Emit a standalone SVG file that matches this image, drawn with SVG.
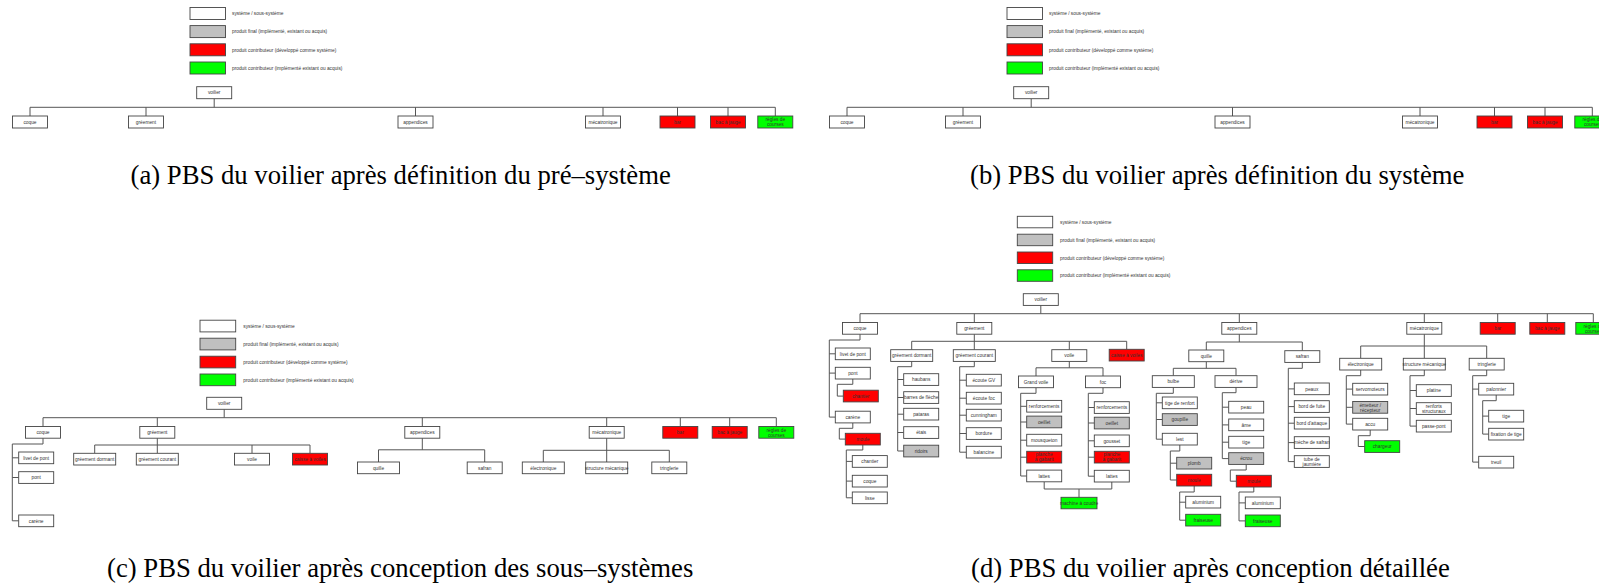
<svg xmlns="http://www.w3.org/2000/svg" width="1599" height="587" viewBox="0 0 1599 587">
<style>
.b{fill:#fff;stroke:#444;stroke-width:.9}
.g{fill:#c0c0c0;stroke:#444;stroke-width:.9}
.r{fill:#f00;stroke:#444;stroke-width:.9}
.v{fill:#0f0;stroke:#444;stroke-width:.9}
.t{font-family:"Liberation Sans",Arial,sans-serif;font-size:4.8px;fill:#333;text-anchor:middle}
.l{font-family:"Liberation Sans",Arial,sans-serif;font-size:4.8px;fill:#333}
.c{fill:none;stroke:#555;stroke-width:1}
.cap{font-family:"Liberation Serif","Times New Roman",serif;font-size:26.7px;fill:#000}
</style>
<rect width="1599" height="587" fill="#fff"/>

<!-- ============ PANEL A ============ -->
<g id="panel-a">
<g id="a-legend">
<rect class="b" x="190" y="7.5" width="35.5" height="12"/><text class="l" x="232" y="15.2">système / sous-système</text>
<rect class="g" x="190" y="25.6" width="35.5" height="12"/><text class="l" x="232" y="33.3">produit final (implémenté, existant ou acquis)</text>
<rect class="r" x="190" y="43.8" width="35.5" height="12"/><text class="l" x="232" y="51.5">produit contributeur (développé comme système)</text>
<rect class="v" x="190" y="62" width="35.5" height="12"/><text class="l" x="232" y="69.7">produit contributeur (implémenté existant ou acquis)</text>
</g>
<g id="a-connectors">
<path class="c" d="M214.2 98.7 V107.3 M30 107.3 H775.3 M30 107.3 V116 M146 107.3 V116 M415.5 107.3 V116 M603 107.3 V116 M677.5 107.3 V116 M728 107.3 V116 M775.3 107.3 V116"/>
</g>
<g id="a-voilier"><rect class="b" x="196.7" y="86.7" width="35" height="12"/><text class="t" x="214.2" y="94.4">voilier</text></g>
<g id="a-coque"><rect class="b" x="12.5" y="116" width="35" height="12"/><text class="t" x="30" y="123.7">coque</text></g>
<g id="a-greement"><rect class="b" x="128.5" y="116" width="35" height="12"/><text class="t" x="146" y="123.7">gréement</text></g>
<g id="a-appendices"><rect class="b" x="398" y="116" width="35" height="12"/><text class="t" x="415.5" y="123.7">appendices</text></g>
<g id="a-mecatronique"><rect class="b" x="585.5" y="116" width="35" height="12"/><text class="t" x="603" y="123.7">mécatronique</text></g>
<g id="a-bar"><rect class="r" x="660" y="116" width="35" height="12"/><text class="t" x="677.5" y="123.7">bar</text></g>
<g id="a-bac"><rect class="r" x="710.5" y="116" width="35" height="12"/><text class="t" x="728" y="123.7">bac à jauge</text></g>
<g id="a-regles"><rect class="v" x="757.8" y="116" width="35" height="12"/><text class="t" x="775.3" y="121.2">règles de</text><text class="t" x="775.3" y="126.2">courses</text></g>
</g>
<text class="cap" x="130.5" y="183.5">(a)  PBS du voilier après définition du pré–système</text>

<!-- ============ PANEL B ============ -->
<g id="panel-b" transform="translate(817 0)">
<g id="b-legend">
<rect class="b" x="190" y="7.5" width="35.5" height="12"/><text class="l" x="232" y="15.2">système / sous-système</text>
<rect class="g" x="190" y="25.6" width="35.5" height="12"/><text class="l" x="232" y="33.3">produit final (implémenté, existant ou acquis)</text>
<rect class="r" x="190" y="43.8" width="35.5" height="12"/><text class="l" x="232" y="51.5">produit contributeur (développé comme système)</text>
<rect class="v" x="190" y="62" width="35.5" height="12"/><text class="l" x="232" y="69.7">produit contributeur (implémenté existant ou acquis)</text>
</g>
<g id="b-connectors">
<path class="c" d="M214.2 98.7 V107.3 M30 107.3 H775.3 M30 107.3 V116 M146 107.3 V116 M415.5 107.3 V116 M603 107.3 V116 M677.5 107.3 V116 M728 107.3 V116 M775.3 107.3 V116"/>
</g>
<g id="b-voilier"><rect class="b" x="196.7" y="86.7" width="35" height="12"/><text class="t" x="214.2" y="94.4">voilier</text></g>
<g id="b-coque"><rect class="b" x="12.5" y="116" width="35" height="12"/><text class="t" x="30" y="123.7">coque</text></g>
<g id="b-greement"><rect class="b" x="128.5" y="116" width="35" height="12"/><text class="t" x="146" y="123.7">gréement</text></g>
<g id="b-appendices"><rect class="b" x="398" y="116" width="35" height="12"/><text class="t" x="415.5" y="123.7">appendices</text></g>
<g id="b-mecatronique"><rect class="b" x="585.5" y="116" width="35" height="12"/><text class="t" x="603" y="123.7">mécatronique</text></g>
<g id="b-bar"><rect class="r" x="660" y="116" width="35" height="12"/><text class="t" x="677.5" y="123.7">bar</text></g>
<g id="b-bac"><rect class="r" x="710.5" y="116" width="35" height="12"/><text class="t" x="728" y="123.7">bac à jauge</text></g>
<g id="b-regles"><rect class="v" x="757.8" y="116" width="35" height="12"/><text class="t" x="775.3" y="121.2">règles de</text><text class="t" x="775.3" y="126.2">courses</text></g>
</g>
<text class="cap" x="970" y="183.5">(b)  PBS du voilier après définition du système</text>

<!-- ============ PANEL C ============ -->
<g id="panel-c">
<g id="c-legend">
<rect class="b" x="200" y="320.2" width="35.7" height="11.7"/><text class="l" x="243.3" y="327.7">système / sous-système</text>
<rect class="g" x="200" y="338.2" width="35.7" height="11.7"/><text class="l" x="243.3" y="345.8">produit final (implémenté, existant ou acquis)</text>
<rect class="r" x="200" y="356.2" width="35.7" height="11.7"/><text class="l" x="243.3" y="363.7">produit contributeur (développé comme système)</text>
<rect class="v" x="200" y="374" width="35.7" height="11.7"/><text class="l" x="243.3" y="381.6">produit contributeur (implémenté existant ou acquis)</text>
</g>
<g id="c-connectors">
<path class="c" d="M224.2 409.3 V417.7 M43 417.7 H776.3 M43 417.7 V426.5 M157.3 417.7 V426.5 M422.3 417.7 V426.5 M606.7 417.7 V426.5 M680.3 417.7 V426.5 M729.7 417.7 V426.5 M776.3 417.7 V426.5"/>
<path class="c" d="M43 438.2 V444 H12.3 V520.8 M12.3 457.8 H18.7 M12.3 477.5 H18.7 M12.3 520.8 H18.7"/>
<path class="c" d="M157.3 438.2 V453.3 M94.7 453.3 V445 H310 V453.3 M252 445 V453.3"/>
<path class="c" d="M422.3 438.2 V449.8 M378.5 462 V449.8 H484.7 V462"/>
<path class="c" d="M606.7 438.2 V462 M543.3 462 V450.3 H669.3 V462"/>
</g>
<g id="c-voilier"><rect class="b" x="206.7" y="397.3" width="35" height="12"/><text class="t" x="224.2" y="405">voilier</text></g>
<g id="c-coque"><rect class="b" x="25.5" y="426.5" width="35" height="11.7"/><text class="t" x="43" y="434.05">coque</text></g>
<g id="c-greement"><rect class="b" x="139.8" y="426.5" width="35" height="11.7"/><text class="t" x="157.3" y="434.05">gréement</text></g>
<g id="c-appendices"><rect class="b" x="404.8" y="426.5" width="35" height="11.7"/><text class="t" x="422.3" y="434.05">appendices</text></g>
<g id="c-mecatronique"><rect class="b" x="589.2" y="426.5" width="35" height="11.7"/><text class="t" x="606.7" y="434.05">mécatronique</text></g>
<g id="c-bar"><rect class="r" x="662.8" y="426.5" width="35" height="11.7"/><text class="t" x="680.3" y="434.05">bar</text></g>
<g id="c-bac"><rect class="r" x="712.2" y="426.5" width="35" height="11.7"/><text class="t" x="729.7" y="434.05">bac à jauge</text></g>
<g id="c-regles"><rect class="v" x="758.8" y="426.5" width="35" height="11.7"/><text class="t" x="776.3" y="431.6">règles de</text><text class="t" x="776.3" y="436.5">courses</text></g>
<g id="c-livet"><rect class="b" x="18.7" y="452" width="35" height="11.7"/><text class="t" x="36.2" y="459.55">livet de pont</text></g>
<g id="c-pont"><rect class="b" x="18.7" y="471.7" width="35" height="11.7"/><text class="t" x="36.2" y="479.25">pont</text></g>
<g id="c-carene"><rect class="b" x="18.7" y="515" width="35" height="11.7"/><text class="t" x="36.2" y="522.55">carène</text></g>
<g id="c-gdormant"><rect class="b" x="73.7" y="453.3" width="42" height="11.7"/><text class="t" x="94.7" y="460.85">gréement dormant</text></g>
<g id="c-gcourant"><rect class="b" x="136.3" y="453.3" width="42" height="11.7"/><text class="t" x="157.3" y="460.85">gréement courant</text></g>
<g id="c-voile"><rect class="b" x="234.5" y="453.3" width="35" height="11.7"/><text class="t" x="252" y="460.85">voile</text></g>
<g id="c-caisse"><rect class="r" x="292.5" y="453.3" width="35" height="11.7"/><text class="t" x="310" y="460.85">caisse à voiles</text></g>
<g id="c-quille"><rect class="b" x="357.5" y="462" width="42" height="11.7"/><text class="t" x="378.5" y="469.55">quille</text></g>
<g id="c-safran"><rect class="b" x="467.2" y="462" width="35" height="11.7"/><text class="t" x="484.7" y="469.55">safran</text></g>
<g id="c-electronique"><rect class="b" x="522.3" y="462" width="42" height="11.7"/><text class="t" x="543.3" y="469.55">électronique</text></g>
<g id="c-structure"><rect class="b" x="585.7" y="462" width="42" height="11.7"/><text class="t" x="606.7" y="469.55">structure mécanique</text></g>
<g id="c-tringlerie"><rect class="b" x="651.8" y="462" width="35" height="11.7"/><text class="t" x="669.3" y="469.55">tringlerie</text></g>
</g>
<text class="cap" x="107" y="577">(c)  PBS du voilier après conception des sous–systèmes</text>

<!-- ============ PANEL D ============ -->
<g id="panel-d">
<g id="d-legend">
<rect class="b" x="1017.3" y="216.3" width="35.4" height="11.5"/><text class="l" x="1060" y="223.8">système / sous-système</text>
<rect class="g" x="1017.3" y="234.2" width="35.4" height="11.5"/><text class="l" x="1060" y="241.7">produit final (implémenté, existant ou acquis)</text>
<rect class="r" x="1017.3" y="252" width="35.4" height="11.5"/><text class="l" x="1060" y="259.5">produit contributeur (développé comme système)</text>
<rect class="v" x="1017.3" y="269.8" width="35.4" height="11.5"/><text class="l" x="1060" y="277.3">produit contributeur (implémenté existant ou acquis)</text>
</g>
<g id="d-connectors">
<path class="c" d="M1040.8 305.4 V313.7 M860 313.7 H1593.3 M860 313.7 V322.5 M974.3 313.7 V322.5 M1239.3 313.7 V322.5 M1424.3 313.7 V322.5 M1497.7 313.7 V322.5 M1547.3 313.7 V322.5 M1593.3 313.7 V322.5"/>
<path class="c" d="M860 334.2 V340 H829.3 V417.1 M829.3 353.8 H835.3 M829.3 373.1 H835.3 M829.3 417.1 H835.3"/>
<path class="c" d="M852.8 379 V384.3 H837.3 V396.1 H843.3"/>
<path class="c" d="M852.8 422.9 V428.3 H839.3 V439.1 H845.3"/>
<path class="c" d="M862.8 445 V450 H846.3 V497.8 M846.3 461.4 H852.3 M846.3 481.1 H852.3 M846.3 497.8 H852.3"/>
<path class="c" d="M974.3 334.2 V349.7 M911.7 349.7 V341.3 H1126.7 V349.3 M1069.3 341.3 V349.7"/>
<path class="c" d="M911.7 361.4 V366.7 H897.7 V451 M897.7 379.5 H903.7 M897.7 397.5 H903.7 M897.7 414.2 H903.7 M897.7 432.5 H903.7 M897.7 451 H903.7"/>
<path class="c" d="M974.3 361.4 V366.7 H959.7 V452.2 M959.7 380.2 H966.3 M959.7 398.2 H966.3 M959.7 415.2 H966.3 M959.7 433.5 H966.3 M959.7 452.2 H966.3"/>
<path class="c" d="M1069.3 361.4 V367.8 M1036 376 V367.8 H1103 V376"/>
<path class="c" d="M1036 387.7 V393.3 H1020.7 V476 M1020.7 406.3 H1026.7 M1020.7 422 H1026.7 M1020.7 440.2 H1026.7 M1020.7 457.2 H1026.7 M1020.7 476 H1026.7"/>
<path class="c" d="M1103 387.7 V393.3 H1088.3 V476.2 M1088.3 407.5 H1094.3 M1088.3 423 H1094.3 M1088.3 440.8 H1094.3 M1088.3 457.2 H1094.3 M1088.3 476.2 H1094.3"/>
<path class="c" d="M1044.2 481.8 V489 H1111.8 V482 M1079 489 V497.3"/>
<path class="c" d="M1239.3 334.2 V342 M1206.3 350 V342 H1302.3 V350.7"/>
<path class="c" d="M1206.3 361.7 V368.3 M1173.3 375.7 V368.3 H1236 V375.7"/>
<path class="c" d="M1173.3 387.4 V393.3 H1156.3 V439.2 M1156.3 402.8 H1162.3 M1156.3 419.5 H1162.3 M1156.3 439.2 H1162.3"/>
<path class="c" d="M1179.8 445 V451 H1170.3 V480 M1170.3 463.2 H1176.7 M1170.3 480 H1176.7"/>
<path class="c" d="M1194.2 486 V492 H1179.7 V520.2 M1179.7 502.2 H1185.7 M1179.7 520.2 H1185.7"/>
<path class="c" d="M1236 387.4 V392.7 H1222.3 V458.6 M1222.3 407.2 H1228.7 M1222.3 424.9 H1228.7 M1222.3 442.2 H1228.7 M1222.3 458.6 H1228.7"/>
<path class="c" d="M1246.2 464.4 V470 H1230.3 V481.2 H1236.3"/>
<path class="c" d="M1253.8 487 V492 H1239 V520.9 M1239 502.9 H1245.3 M1239 520.9 H1245.3"/>
<path class="c" d="M1302.3 362.4 V368.3 H1288.3 V461.6 M1288.3 388.9 H1294.3 M1288.3 406.6 H1294.3 M1288.3 423.2 H1294.3 M1288.3 442.6 H1294.3 M1288.3 461.6 H1294.3"/>
<path class="c" d="M1424.3 334.2 V358.3 M1360.7 358.3 V346 H1486.7 V358.3"/>
<path class="c" d="M1360.7 370 V375.7 H1346.3 V424.1 M1346.3 389.1 H1352.7 M1346.3 407.3 H1352.7 M1346.3 424.1 H1352.7"/>
<path class="c" d="M1370.2 430 V435.7 H1358.3 V446.5 H1364.7"/>
<path class="c" d="M1424.3 370 V375.7 H1410 V426.1 M1410 390.5 H1416.3 M1410 408.5 H1416.3 M1410 426.1 H1416.3"/>
<path class="c" d="M1486.7 370 V375.7 H1472.7 V462.1 M1472.7 389.1 H1478.7 M1472.7 462.1 H1478.7"/>
<path class="c" d="M1496.2 395 V400.7 H1482.7 V434.1 M1482.7 416.1 H1488.7 M1482.7 434.1 H1488.7"/>
</g>
<g id="d-voilier"><rect class="b" x="1023.3" y="293.7" width="35" height="11.7"/><text class="t" x="1040.8" y="301.25">voilier</text></g>
<g id="d-coque"><rect class="b" x="842.5" y="322.5" width="35" height="11.7"/><text class="t" x="860" y="330.05">coque</text></g>
<g id="d-greement"><rect class="b" x="956.8" y="322.5" width="35" height="11.7"/><text class="t" x="974.3" y="330.05">gréement</text></g>
<g id="d-appendices"><rect class="b" x="1221.8" y="322.5" width="35" height="11.7"/><text class="t" x="1239.3" y="330.05">appendices</text></g>
<g id="d-mecatronique"><rect class="b" x="1406.8" y="322.5" width="35" height="11.7"/><text class="t" x="1424.3" y="330.05">mécatronique</text></g>
<g id="d-bar"><rect class="r" x="1480.2" y="322.5" width="35" height="11.7"/><text class="t" x="1497.7" y="330.05">bar</text></g>
<g id="d-bac"><rect class="r" x="1529.8" y="322.5" width="35" height="11.7"/><text class="t" x="1547.3" y="330.05">bac à jauge</text></g>
<g id="d-regles"><rect class="v" x="1575.8" y="322.5" width="35" height="11.7"/><text class="t" x="1593.3" y="327.6">règles de</text><text class="t" x="1593.3" y="332.5">courses</text></g>

<g id="d-livet"><rect class="b" x="835.3" y="348" width="35" height="11.7"/><text class="t" x="852.8" y="355.55">livet de pont</text></g>
<g id="d-pont"><rect class="b" x="835.3" y="367.3" width="35" height="11.7"/><text class="t" x="852.8" y="374.85">pont</text></g>
<g id="d-pont-chantier"><rect class="r" x="843.3" y="390.2" width="35" height="11.7"/><text class="t" x="860.8" y="397.75">chantier</text></g>
<g id="d-carene"><rect class="b" x="835.3" y="411.2" width="35" height="11.7"/><text class="t" x="852.8" y="418.75">carène</text></g>
<g id="d-carene-moule"><rect class="r" x="845.3" y="433.3" width="35" height="11.7"/><text class="t" x="862.8" y="440.85">moule</text></g>
<g id="d-moule-chantier"><rect class="b" x="852.3" y="455.6" width="35" height="11.7"/><text class="t" x="869.8" y="463.15">chantier</text></g>
<g id="d-moule-coque"><rect class="b" x="852.3" y="475.3" width="35" height="11.7"/><text class="t" x="869.8" y="482.85">coque</text></g>
<g id="d-moule-lisse"><rect class="b" x="852.3" y="492" width="35" height="11.7"/><text class="t" x="869.8" y="499.55">lisse</text></g>

<g id="d-gdormant"><rect class="b" x="890.7" y="349.7" width="42" height="11.7"/><text class="t" x="911.7" y="357.25">gréement dormant</text></g>
<g id="d-gcourant"><rect class="b" x="953.3" y="349.7" width="42" height="11.7"/><text class="t" x="974.3" y="357.25">gréement courant</text></g>
<g id="d-voile"><rect class="b" x="1051.8" y="349.7" width="35" height="11.7"/><text class="t" x="1069.3" y="357.25">voile</text></g>
<g id="d-caisse"><rect class="r" x="1109.2" y="349.3" width="35" height="11.7"/><text class="t" x="1126.7" y="356.85">caisse à voiles</text></g>
<g id="d-haubans"><rect class="b" x="903.7" y="373.7" width="35" height="11.7"/><text class="t" x="921.2" y="381.25">haubans</text></g>
<g id="d-barres"><rect class="b" x="903.7" y="391.7" width="35" height="11.7"/><text class="t" x="921.2" y="399.25">barres de flèche</text></g>
<g id="d-pataras"><rect class="b" x="903.7" y="408.3" width="35" height="11.7"/><text class="t" x="921.2" y="415.85">pataras</text></g>
<g id="d-etais"><rect class="b" x="903.7" y="426.7" width="35" height="11.7"/><text class="t" x="921.2" y="434.25">étais</text></g>
<g id="d-ridoirs"><rect class="g" x="903.7" y="445.2" width="35" height="11.7"/><text class="t" x="921.2" y="452.75">ridoirs</text></g>
<g id="d-ecoute-gv"><rect class="b" x="966.3" y="374.3" width="35" height="11.7"/><text class="t" x="983.8" y="381.85">écoute GV</text></g>
<g id="d-ecoute-foc"><rect class="b" x="966.3" y="392.3" width="35" height="11.7"/><text class="t" x="983.8" y="399.85">écoute foc</text></g>
<g id="d-cunningham"><rect class="b" x="966.3" y="409.3" width="35" height="11.7"/><text class="t" x="983.8" y="416.85">cunningham</text></g>
<g id="d-bordure"><rect class="b" x="966.3" y="427.7" width="35" height="11.7"/><text class="t" x="983.8" y="435.25">bordure</text></g>
<g id="d-balancine"><rect class="b" x="966.3" y="446.3" width="35" height="11.7"/><text class="t" x="983.8" y="453.85">balancine</text></g>
<g id="d-grandvoile"><rect class="b" x="1018.5" y="376" width="35" height="11.7"/><text class="t" x="1036" y="383.55">Grand voile</text></g>
<g id="d-foc"><rect class="b" x="1085.5" y="376" width="35" height="11.7"/><text class="t" x="1103" y="383.55">foc</text></g>
<g id="d-gv-renf"><rect class="b" x="1026.7" y="400.4" width="35" height="11.7"/><text class="t" x="1044.2" y="407.95">renforcements</text></g>
<g id="d-gv-oeillet"><rect class="g" x="1026.7" y="416.1" width="35" height="11.7"/><text class="t" x="1044.2" y="423.65">oeillet</text></g>
<g id="d-gv-mousqueton"><rect class="b" x="1026.7" y="434.3" width="35" height="11.7"/><text class="t" x="1044.2" y="441.85">mousqueton</text></g>
<g id="d-gv-planche"><rect class="r" x="1026.7" y="451.3" width="35" height="11.7"/><text class="t" x="1044.2" y="456.4">planche</text><text class="t" x="1044.2" y="461.3">à gabarit</text></g>
<g id="d-gv-lattes"><rect class="b" x="1026.7" y="470.1" width="35" height="11.7"/><text class="t" x="1044.2" y="477.65">lattes</text></g>
<g id="d-foc-renf"><rect class="b" x="1094.3" y="401.7" width="35" height="11.7"/><text class="t" x="1111.8" y="409.25">renforcements</text></g>
<g id="d-foc-oeillet"><rect class="g" x="1094.3" y="417.2" width="35" height="11.7"/><text class="t" x="1111.8" y="424.75">oeillet</text></g>
<g id="d-foc-gousset"><rect class="b" x="1094.3" y="435" width="35" height="11.7"/><text class="t" x="1111.8" y="442.55">gousset</text></g>
<g id="d-foc-planche"><rect class="r" x="1094.3" y="451.3" width="35" height="11.7"/><text class="t" x="1111.8" y="456.4">planche</text><text class="t" x="1111.8" y="461.3">à gabarit</text></g>
<g id="d-foc-lattes"><rect class="b" x="1094.3" y="470.3" width="35" height="11.7"/><text class="t" x="1111.8" y="477.85">lattes</text></g>
<g id="d-machine"><rect class="v" x="1061" y="497.3" width="36" height="11.5"/><text class="t" x="1079" y="504.75">machine à coudre</text></g>

<g id="d-quille"><rect class="b" x="1188.8" y="350" width="35" height="11.7"/><text class="t" x="1206.3" y="357.55">quille</text></g>
<g id="d-safran"><rect class="b" x="1284.8" y="350.7" width="35" height="11.7"/><text class="t" x="1302.3" y="358.25">safran</text></g>
<g id="d-bulbe"><rect class="b" x="1152.3" y="375.7" width="42" height="11.7"/><text class="t" x="1173.3" y="383.25">bulbe</text></g>
<g id="d-derive"><rect class="b" x="1215" y="375.7" width="42" height="11.7"/><text class="t" x="1236" y="383.25">dérive</text></g>
<g id="d-tige-renfort"><rect class="b" x="1162.3" y="397" width="35" height="11.7"/><text class="t" x="1179.8" y="404.55">tige de renfort</text></g>
<g id="d-goupille"><rect class="g" x="1162.3" y="413.7" width="35" height="11.7"/><text class="t" x="1179.8" y="421.25">goupille</text></g>
<g id="d-lest"><rect class="b" x="1162.3" y="433.3" width="35" height="11.7"/><text class="t" x="1179.8" y="440.85">lest</text></g>
<g id="d-plomb"><rect class="g" x="1176.7" y="457.3" width="35" height="11.7"/><text class="t" x="1194.2" y="464.85">plomb</text></g>
<g id="d-lest-moule"><rect class="r" x="1176.7" y="474.3" width="35" height="11.7"/><text class="t" x="1194.2" y="481.85">moule</text></g>
<g id="d-lest-alu"><rect class="b" x="1185.7" y="496.3" width="35" height="11.7"/><text class="t" x="1203.2" y="503.85">aluminium</text></g>
<g id="d-lest-fraiseuse"><rect class="v" x="1185.7" y="514.3" width="35" height="11.7"/><text class="t" x="1203.2" y="521.85">fraiseuse</text></g>
<g id="d-peau"><rect class="b" x="1228.7" y="401.3" width="35" height="11.7"/><text class="t" x="1246.2" y="408.85">peau</text></g>
<g id="d-ame"><rect class="b" x="1228.7" y="419" width="35" height="11.7"/><text class="t" x="1246.2" y="426.55">âme</text></g>
<g id="d-tige-derive"><rect class="b" x="1228.7" y="436.3" width="35" height="11.7"/><text class="t" x="1246.2" y="443.85">tige</text></g>
<g id="d-ecrou"><rect class="g" x="1228.7" y="452.7" width="35" height="11.7"/><text class="t" x="1246.2" y="460.25">écrou</text></g>
<g id="d-ecrou-moule"><rect class="r" x="1236.3" y="475.3" width="35" height="11.7"/><text class="t" x="1253.8" y="482.85">moule</text></g>
<g id="d-ecrou-alu"><rect class="b" x="1245.3" y="497" width="35" height="11.7"/><text class="t" x="1262.8" y="504.55">aluminium</text></g>
<g id="d-ecrou-fraiseuse"><rect class="v" x="1245.3" y="515" width="35" height="11.7"/><text class="t" x="1262.8" y="522.55">fraiseuse</text></g>
<g id="d-peaux"><rect class="b" x="1294.3" y="383" width="35" height="11.7"/><text class="t" x="1311.8" y="390.55">peaux</text></g>
<g id="d-bord-fuite"><rect class="b" x="1294.3" y="400.7" width="35" height="11.7"/><text class="t" x="1311.8" y="408.25">bord de fuite</text></g>
<g id="d-bord-attaque"><rect class="b" x="1294.3" y="417.3" width="35" height="11.7"/><text class="t" x="1311.8" y="424.85">bord d'attaque</text></g>
<g id="d-meche"><rect class="b" x="1294.3" y="436.7" width="35" height="11.7"/><text class="t" x="1311.8" y="444.25">mèche de safran</text></g>
<g id="d-tube"><rect class="b" x="1294.3" y="455.7" width="35" height="11.7"/><text class="t" x="1311.8" y="460.8">tube de</text><text class="t" x="1311.8" y="465.7">jaumière</text></g>

<g id="d-electronique"><rect class="b" x="1339.7" y="358.3" width="42" height="11.7"/><text class="t" x="1360.7" y="365.85">électronique</text></g>
<g id="d-structure"><rect class="b" x="1403.3" y="358.3" width="42" height="11.7"/><text class="t" x="1424.3" y="365.85">structure mécanique</text></g>
<g id="d-tringlerie"><rect class="b" x="1469.2" y="358.3" width="35" height="11.7"/><text class="t" x="1486.7" y="365.85">tringlerie</text></g>
<g id="d-servo"><rect class="b" x="1352.7" y="383.3" width="35" height="11.7"/><text class="t" x="1370.2" y="390.85">servomoteurs</text></g>
<g id="d-emetteur"><rect class="g" x="1352.7" y="401.5" width="35" height="11.7"/><text class="t" x="1370.2" y="406.6">émetteur /</text><text class="t" x="1370.2" y="411.5">récepteur</text></g>
<g id="d-accu"><rect class="b" x="1352.7" y="418.3" width="35" height="11.7"/><text class="t" x="1370.2" y="425.85">accu</text></g>
<g id="d-chargeur"><rect class="v" x="1364.7" y="440.7" width="35" height="11.7"/><text class="t" x="1382.2" y="448.25">chargeur</text></g>
<g id="d-platine"><rect class="b" x="1416.3" y="384.7" width="35" height="11.7"/><text class="t" x="1433.8" y="392.25">platine</text></g>
<g id="d-renforts"><rect class="b" x="1416.3" y="402.7" width="35" height="11.7"/><text class="t" x="1433.8" y="407.8">renforts</text><text class="t" x="1433.8" y="412.7">structuraux</text></g>
<g id="d-passe-pont"><rect class="b" x="1416.3" y="420.3" width="35" height="11.7"/><text class="t" x="1433.8" y="427.85">passe-pont</text></g>
<g id="d-palonnier"><rect class="b" x="1478.7" y="383.3" width="35" height="11.7"/><text class="t" x="1496.2" y="390.85">palonnier</text></g>
<g id="d-treuil"><rect class="b" x="1478.7" y="456.3" width="35" height="11.7"/><text class="t" x="1496.2" y="463.85">treuil</text></g>
<g id="d-tige"><rect class="b" x="1488.7" y="410.3" width="35" height="11.7"/><text class="t" x="1506.2" y="417.85">tige</text></g>
<g id="d-fixation"><rect class="b" x="1488.7" y="428.3" width="35" height="11.7"/><text class="t" x="1506.2" y="435.85">fixation de tige</text></g>
</g>
<text class="cap" x="971" y="577">(d)  PBS du voilier après conception détaillée</text>
</svg>
